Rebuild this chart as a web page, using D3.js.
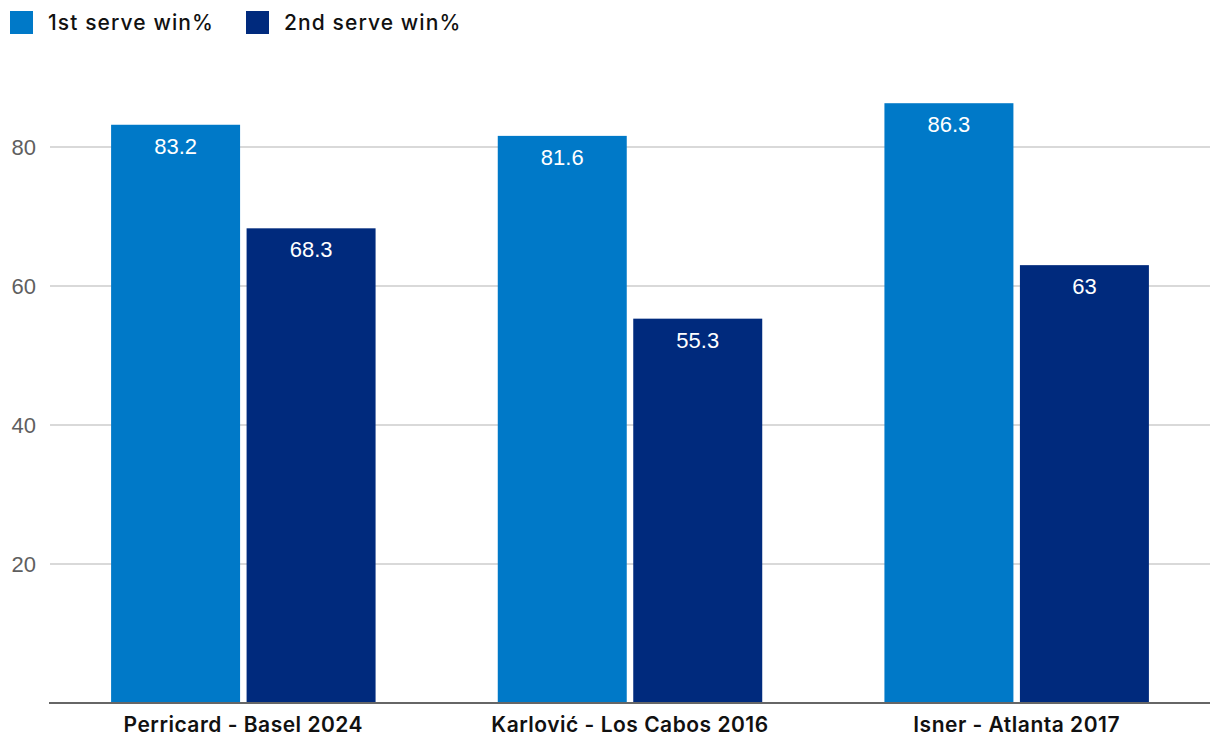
<!DOCTYPE html>
<html>
<head>
	<meta charset="UTF-8">
	<script src="https://d3js.org/d3.v7.min.js"></script>
	<style>
		body { margin: 0; background: #fff; }
	</style>
</head>
<body>
	<svg width="1220" height="754"></svg>
	<script>
		var width = 1220;
		var height = 754;

		// data
		var categories = ["Perricard - Basel 2024", "Karlović - Los Cabos 2016", "Isner - Atlanta 2017"];
		var seriesNames = ["1st serve win%", "2nd serve win%"];
		var firstServe = [83.2, 81.6, 86.3];
		var secondServe = [68.3, 55.3, 63];
		var yTicks = [20, 40, 60, 80];
		var colors = ["#0079c8", "#002a7d"];

		var margin = { left: 50, right: 10, top: 60, bottom: 51 };
		var svg = d3.select("svg");

		var x0 = d3.scaleBand()
			.domain(categories)
			.range([margin.left, width - margin.right])
			.paddingInner(0.316)
			.paddingOuter(0.158);

		var x1 = d3.scaleBand()
			.domain(seriesNames)
			.range([0, x0.bandwidth()])
			.paddingInner(0.048);

		var y = d3.scaleLinear()
			.domain([0, 20])
			.range([height - margin.bottom, height - margin.bottom - 139]);

		// gridlines
		svg.selectAll(".grid")
			.data(yTicks)
			.enter()
			.append("line")
			.attr("x1", margin.left)
			.attr("x2", width - margin.right)
			.attr("y1", d => y(d))
			.attr("y2", d => y(d))
			.attr("stroke", "#d9d9d9")
			.attr("stroke-width", 2);

		svg.selectAll(".ytick")
			.data(yTicks)
			.enter()
			.append("text")
			.attr("x", 36)
			.attr("y", d => y(d))
			.attr("dy", "0.36em")
			.attr("text-anchor", "end")
			.attr("font-family", "Liberation Sans, Arial, sans-serif")
			.attr("font-size", 22)
			.attr("fill", "#5f5f5f")
			.text(d => d);

		// bars
		var rows = categories.map((c, i) => ({ cat: c, vals: [firstServe[i], secondServe[i]] }));

		var group = svg.selectAll(".group")
			.data(rows)
			.enter()
			.append("g")
			.attr("transform", d => "translate(" + x0(d.cat) + ",0)");

		var cell = group.selectAll(".bar")
			.data(d => d.vals.map((v, j) => ({ name: seriesNames[j], v: v, j: j })))
			.enter();

		cell.append("rect")
			.attr("x", d => x1(d.name))
			.attr("width", x1.bandwidth())
			.attr("y", d => y(d.v))
			.attr("height", d => y(0) - y(d.v))
			.attr("fill", d => colors[d.j]);

		cell.append("text")
			.attr("x", d => x1(d.name) + x1.bandwidth() / 2)
			.attr("y", d => y(d.v) + 29)
			.attr("text-anchor", "middle")
			.attr("font-family", "Liberation Sans, Arial, sans-serif")
			.attr("font-size", 22)
			.attr("fill", "#fff")
			.text(d => d.v);

		// axis line
		svg.append("line")
			.attr("x1", margin.left - 1)
			.attr("x2", width - margin.right)
			.attr("y1", y(0))
			.attr("y2", y(0))
			.attr("stroke", "#666")
			.attr("stroke-width", 2);

		svg.selectAll(".cat")
			.data(categories)
			.enter()
			.append("text")
			.attr("x", d => x0(d) + x0.bandwidth() / 2)
			.attr("y", 732)
			.attr("text-anchor", "middle")
			.attr("font-family", "Inter, sans-serif")
			.attr("font-weight", 600)
			.attr("font-size", 21)
			.attr("letter-spacing", 0.5)
			.attr("fill", "#111")
			.text(d => d);

		// legend
		var legX = [10, 246];
		var leg = svg.selectAll(".leg")
			.data(seriesNames)
			.enter()
			.append("g")
			.attr("transform", (d, i) => "translate(" + legX[i] + ",11)");

		leg.append("rect")
			.attr("width", 23)
			.attr("height", 23)
			.attr("fill", (d, i) => colors[i]);

		leg.append("text")
			.attr("x", 38)
			.attr("y", 19)
			.attr("font-family", "Inter, sans-serif")
			.attr("font-weight", 500)
			.attr("font-size", 21)
			.attr("letter-spacing", 1.1)
			.attr("fill", "#111")
			.text(d => d);
	</script>
</body>
</html>
